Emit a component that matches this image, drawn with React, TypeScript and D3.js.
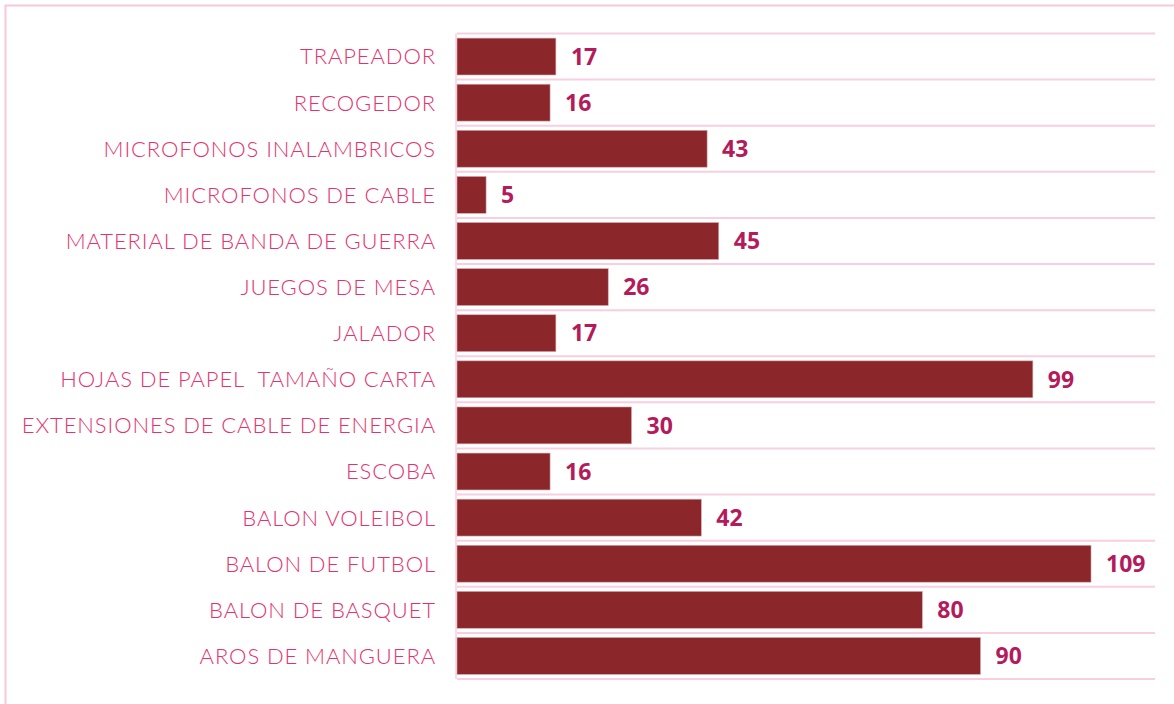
import React, { useEffect, useRef } from 'react';
import * as d3 from 'd3';

// values, top to bottom
const categories = [
  'TRAPEADOR',
  'RECOGEDOR',
  'MICROFONOS INALAMBRICOS',
  'MICROFONOS DE CABLE',
  'MATERIAL DE BANDA DE GUERRA',
  'JUEGOS DE MESA',
  'JALADOR',
  'HOJAS DE PAPEL  TAMAÑO CARTA',
  'EXTENSIONES DE CABLE DE ENERGIA',
  'ESCOBA',
  'BALON VOLEIBOL',
  'BALON DE FUTBOL',
  'BALON DE BASQUET',
  'AROS DE MANGUERA',
];
const cantidades = [17, 16, 43, 5, 45, 26, 17, 99, 30, 16, 42, 109, 80, 90];
const xDomainMax = 120;

export default function App() {
  const ref = useRef<SVGSVGElement>(null);

  useEffect(() => {
    const width = 1174;
    const height = 704;
    const margin = { top: 33.5, right: 19, bottom: 25, left: 457 };

    const svg = d3.select(ref.current);
    svg.selectAll('*').remove();

    // outer frame (runs off the right and bottom of the picture)
    svg.append('rect')
      .attr('x', 5.5)
      .attr('y', 5.5)
      .attr('width', width + 20)
      .attr('height', height + 20)
      .attr('fill', 'none')
      .attr('stroke', '#f7c8da')
      .attr('stroke-width', 2);

    const x = d3.scaleLinear()
      .domain([0, xDomainMax])
      .range([margin.left, width - margin.right]);

    const y = d3.scaleBand<string>()
      .domain(categories)
      .range([margin.top, height - margin.bottom])
      .paddingInner(0.2)
      .paddingOuter(0.1);

    const step = y.step();

    // horizontal separators between the bands
    const gridYs = d3.range(categories.length + 1).map((i) => margin.top + i * step);
    svg.append('g')
      .selectAll('line')
      .data(gridYs)
      .join('line')
      .attr('x1', x(0))
      .attr('x2', x(xDomainMax))
      .attr('y1', (d) => d)
      .attr('y2', (d) => d)
      .attr('stroke', '#f8cfdf')
      .attr('stroke-width', 2);

    // left axis line
    svg.append('line')
      .attr('x1', x(0) - 1)
      .attr('x2', x(0) - 1)
      .attr('y1', margin.top)
      .attr('y2', margin.top + categories.length * step)
      .attr('stroke', '#f8cfdf')
      .attr('stroke-width', 1.5);

    // bars
    svg.append('g')
      .selectAll('rect')
      .data(categories)
      .join('rect')
      .attr('x', x(0))
      .attr('y', (d) => y(d)!)
      .attr('width', (d, i) => x(cantidades[i]) - x(0))
      .attr('height', y.bandwidth())
      .attr('fill', '#8b272a')
      .attr('stroke', '#d9a7ad')
      .attr('stroke-width', 0.6);

    // category labels
    svg.append('g')
      .selectAll('text')
      .data(categories)
      .join('text')
      .attr('x', x(0) - 21)
      .attr('y', (d) => y(d)! + y.bandwidth() / 2)
      .attr('dy', '0.36em')
      .attr('text-anchor', 'end')
      .style('white-space', 'pre')
      .style('font-family', 'Lato, sans-serif')
      .style('font-weight', 300)
      .style('font-size', '22px')
      .style('letter-spacing', '0.9px')
      .attr('fill', '#e2336f')
      .text((d) => d);

    // value labels
    svg.append('g')
      .selectAll('text')
      .data(categories)
      .join('text')
      .attr('x', (d, i) => x(cantidades[i]) + 15)
      .attr('y', (d) => y(d)! + y.bandwidth() / 2)
      .attr('dy', '0.36em')
      .style('font-family', '"Open Sans", sans-serif')
      .style('font-weight', 700)
      .style('font-size', '23px')
      .attr('fill', '#b31b5b')
      .text((d, i) => cantidades[i]);
  }, []);

  return (
    <svg
      ref={ref}
      width={1174}
      height={704}
      style={{ position: 'absolute', left: 0, top: 0, background: '#fff' }}
    />
  );
}
